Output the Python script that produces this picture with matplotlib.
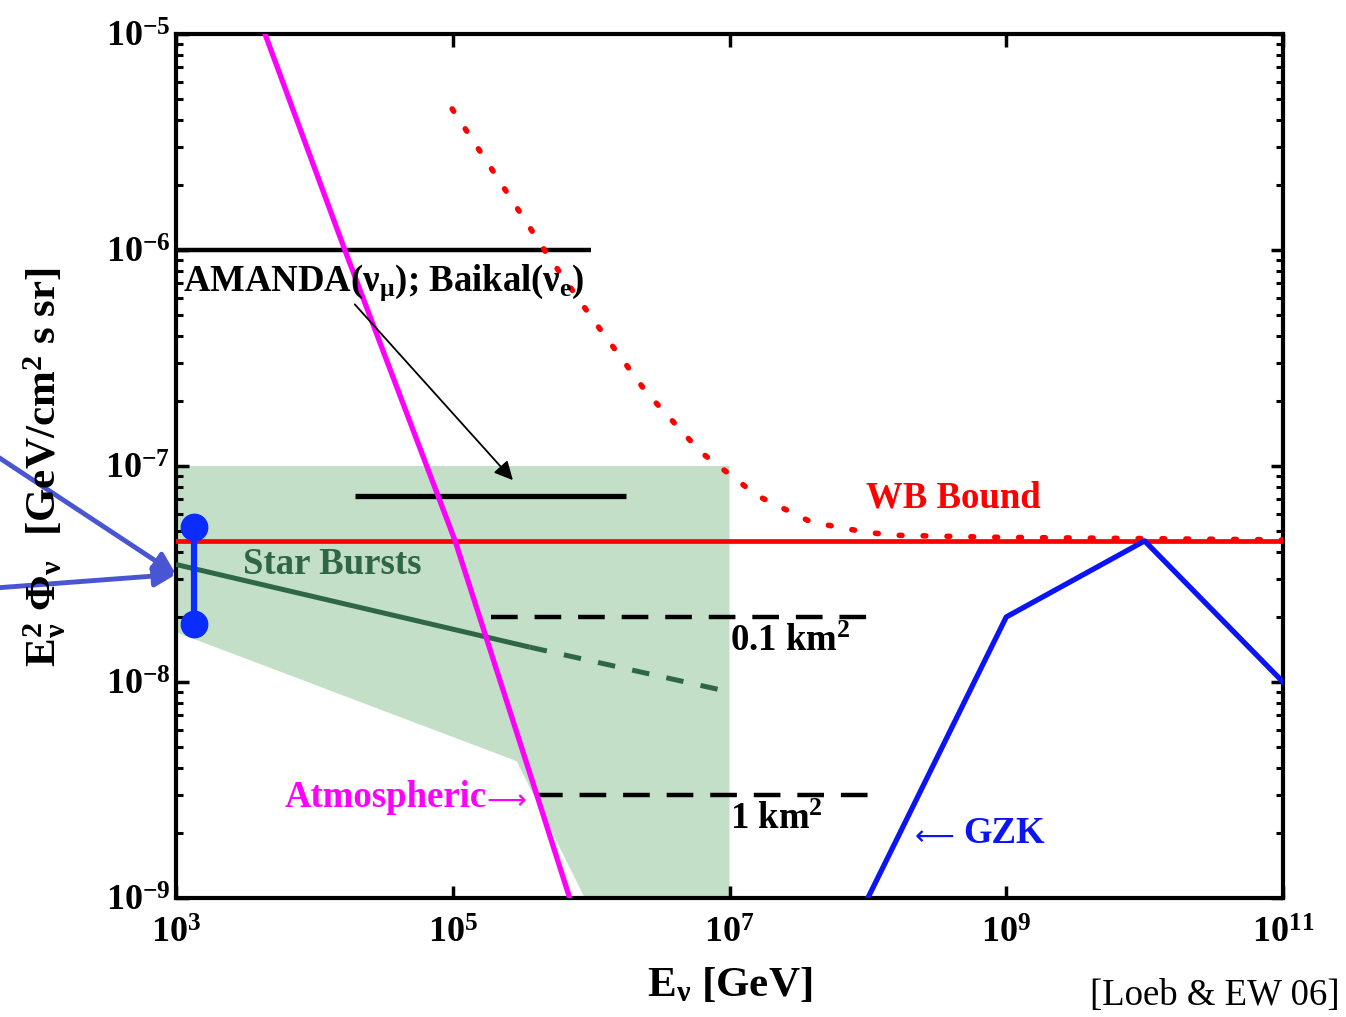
import matplotlib
matplotlib.use("Agg")
import matplotlib.pyplot as plt
from matplotlib.patches import Polygon

plt.rcParams['font.family'] = ['Liberation Serif', 'DejaVu Serif']
plt.rcParams['mathtext.fontset'] = 'custom'
plt.rcParams['mathtext.rm'] = 'Liberation Serif:bold'
plt.rcParams['mathtext.it'] = 'Liberation Serif:bold'
plt.rcParams['mathtext.bf'] = 'Liberation Serif:bold'
plt.rcParams['mathtext.default'] = 'rm'

# ---------------- data ----------------
# Atmospheric neutrino background
atm_E = [4.4e3, 1.66e4, 1.04e5, 4.05e5, 7.0e5]
atm_F = [1e-5, 1e-6, 4.5e-8, 3.0e-9, 1e-9]

# Waxman-Bahcall bound
wb_E = [1e3, 1e11]
wb_F = [4.5e-8, 4.5e-8]

# WB bound with evolution (dotted)
wbd_E = [9.9e4, 1.99e5, 4.95e5, 1.0e6, 2.5e6, 6.2e6, 1.58e7, 3.9e7, 9.8e7, 1.57e8, 8.0e8, 1e11]
wbd_F = [4.5e-6, 2.28e-6, 9.3e-7, 4.9e-7, 2.2e-7, 1.16e-7, 7.3e-8, 5.5e-8, 4.93e-8, 4.78e-8, 4.68e-8, 4.55e-8]

# AMANDA / Baikal limit
amanda_E = [1e3, 1e6]
amanda_F = [1e-6, 1e-6]

# Future limit (black solid)
future_E = [1.95e4, 1.8e6]
future_F = [7.3e-8, 7.3e-8]

# Detector sensitivities
km01_E = [1.9e5, 1e8]
km01_F = [2.0e-8, 2.0e-8]
km1_E = [4.0e5, 1e8]
km1_F = [3.0e-9, 3.0e-9]

# Star bursts
sb_solid_E = [1e3, 3.6e5]
sb_solid_F = [3.5e-8, 1.45e-8]
sb_dash_E = [3.6e5, 1e7]
sb_dash_F = [1.45e-8, 9.0e-9]

# Star-burst band
band_E = [1e3, 1e7, 1e7, 9.0e5, 2.9e5, 1e3]
band_F = [1e-7, 1e-7, 1e-9, 1e-9, 4.3e-9, 1.7e-8]

# GZK
gzk_E = [1e8, 1e9, 1e10, 1e11]
gzk_F = [1e-9, 2.0e-8, 4.5e-8, 1e-8]

# Error bar
eb_E = [1.35e3, 1.35e3]
eb_F = [5.2e-8, 1.85e-8]

xticks = [1e3, 1e5, 1e7, 1e9, 1e11]
xticklabels = [r'$10^{3}$', r'$10^{5}$', r'$10^{7}$', r'$10^{9}$', r'$10^{11}$']
yticks = [1e-9, 1e-8, 1e-7, 1e-6, 1e-5]
yticklabels = [r'$10^{-9}$', r'$10^{-8}$', r'$10^{-7}$', r'$10^{-6}$', r'$10^{-5}$']

# ---------------- figure ----------------
W, H = 1346, 1017
fig = plt.figure(figsize=(W / 100, H / 100), dpi=100)
ax = fig.add_axes([176 / W, 1 - 898 / H, (1283 - 176) / W, (898 - 34) / H])
ax.set_xscale('log')
ax.set_yscale('log')
ax.set_xlim(1e3, 1e11)
ax.set_ylim(1e-9, 1e-5)

ax.add_patch(Polygon(list(zip(band_E, band_F)), closed=True, facecolor='#c3dfc7',
                     edgecolor='none', zorder=1))

ax.plot(amanda_E, amanda_F, color='black', lw=3.2, solid_capstyle='butt', zorder=3)
ax.plot(future_E, future_F, color='black', lw=3.8, solid_capstyle='butt', zorder=3)
ax.plot(km01_E, km01_F, color='black', lw=3.2, ls=(0, (6, 3.8)), zorder=3)
ax.plot(km1_E, km1_F, color='black', lw=3.2, ls=(0, (6, 3.8)), zorder=3)
ax.plot(sb_solid_E, sb_solid_F, color='#2f6648', lw=3.6, solid_capstyle='butt', zorder=3)
ax.plot(sb_dash_E, sb_dash_F, color='#2f6648', lw=3.6, ls=(0, (3.5, 3.5)), zorder=3)
ax.plot(wb_E, wb_F, color='#ff0000', lw=3.4, zorder=4)
ax.plot(wbd_E, wbd_F, color='#ff0000', lw=4.0, ls=(0, (0.5, 3.8)),
        dash_capstyle='round', zorder=4)
ax.plot(atm_E, atm_F, color='#ff00ff', lw=3.8, zorder=5)
ax.plot(gzk_E, gzk_F, color='#0a14f5', lw=3.8, zorder=5)
ax.plot(eb_E, eb_F, color='#0b2cff', lw=4.5, marker='o', ms=19, zorder=6, clip_on=False)

# AMANDA arrow
ax.annotate('', xy=(2.72e5, 8.6e-8), xytext=(1.96e4, 5.6e-7),
            arrowprops=dict(arrowstyle='-|>', color='black', lw=1.3,
                            mutation_scale=28, shrinkA=0, shrinkB=0), zorder=6)

# blue arrows from outside
for ty in [1017 - 455, 1017 - 588]:
    ax.annotate('', xy=(1.0e3, 3.15e-8), xycoords='data',
                xytext=(-5, ty), textcoords='figure pixels',
                arrowprops=dict(arrowstyle='-|>', color='#4a55d4', lw=3.5,
                                mutation_scale=32, shrinkA=0, shrinkB=0),
                annotation_clip=False, zorder=7)

fs = 26.5
ax.text(1.12e3, 6.5e-7, r'AMANDA($\nu_{\mu}$); Baikal($\nu_{e}$)', fontsize=fs,
        fontweight='bold', color='black', va='baseline', zorder=6)
ax.text(3.05e3, 3.15e-8, 'Star Bursts', fontsize=fs, fontweight='bold',
        color='#2f6648', va='baseline', zorder=6)
ax.text(1.0e7, 1.39e-8, r'0.1 km$^{2}$', fontsize=fs, fontweight='bold',
        color='black', va='baseline', zorder=6)
ax.text(1.0e7, 2.09e-9, r'1 km$^{2}$', fontsize=fs, fontweight='bold',
        color='black', va='baseline', zorder=6)
ax.text(9.7e7, 6.44e-8, 'WB Bound', fontsize=fs, fontweight='bold',
        color='#ff0000', va='baseline', zorder=6)
t_atm = ax.text(6.1e3, 2.64e-9, 'Atmospheric', fontsize=fs, fontweight='bold',
                color='#ff00ff', va='baseline', zorder=6)
ax.annotate('\u27f6', xy=(1.0, 0.0), xycoords=t_atm, xytext=(0, 0),
            textcoords='offset points', fontsize=20, family='DejaVu Sans',
            fontweight='normal', color='#ff00ff', va='bottom', ha='left', zorder=6)
t_arr = ax.text(2.19e8, 1.76e-9, '\u27f5', fontsize=20, family='DejaVu Sans',
                fontweight='normal', color='#0a14f5', va='baseline', zorder=6)
ax.annotate('GZK', xy=(1.0, 0.0), xycoords=t_arr, xytext=(6, 0),
            textcoords='offset points', fontsize=fs, fontweight='bold',
            color='#0a14f5', va='bottom', ha='left', zorder=6)

# ticks and spines
for s in ax.spines.values():
    s.set_linewidth(3.0)
ax.set_xticks(xticks)
ax.set_xticklabels(xticklabels, fontsize=26)
ax.xaxis.set_minor_locator(matplotlib.ticker.NullLocator())
ax.set_yticks(yticks)
ax.set_yticklabels(yticklabels, fontsize=26)
ax.yaxis.set_minor_locator(matplotlib.ticker.LogLocator(base=10, subs=range(2, 10)))
ax.yaxis.set_minor_formatter(matplotlib.ticker.NullFormatter())
ax.tick_params(axis='both', which='major', direction='in', length=9, width=2.5,
               top=True, right=True)
ax.tick_params(axis='x', which='major', pad=14)
ax.tick_params(axis='y', which='major', pad=4)
ax.tick_params(axis='y', which='minor', direction='in', length=5, width=2.2,
               left=True, right=True)

fig.text(45 / W, 1 - 467 / H, r'$E_{\nu}^{2}\ \Phi_{\nu}\ \ [$GeV/cm$^{2}$ s sr$]$',
         rotation=90, fontsize=31, fontweight='bold', ha='center', va='center')
fig.text(730 / W, 1 - 985 / H, r'$E_{\nu}$ [GeV]', fontsize=31, fontweight='bold',
         ha='center', va='center')
fig.text(1340 / W, 1 - 1005 / H, '[Loeb & EW 06]', fontsize=26.5, ha='right',
         va='baseline', color='black')

fig.savefig('out.png', dpi=100)
